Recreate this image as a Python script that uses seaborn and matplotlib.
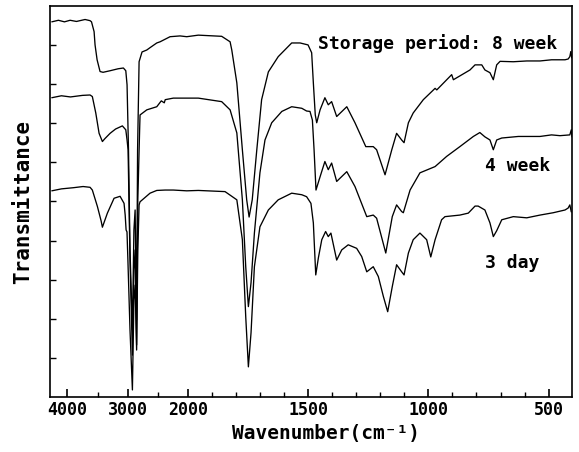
import numpy as np
import pandas as pd
import matplotlib
matplotlib.use("Agg")
import matplotlib.pyplot as plt
from matplotlib.ticker import FixedLocator, NullFormatter
import seaborn as sns

# ---- data (wavenumber cm-1, transmittance arbitrary units) ----
wn_8week = [4260, 4150, 4050, 3956, 3850, 3707, 3624, 3600, 3557, 3541, 3507, 3458, 3408, 3291, 3158,
            3070, 3030, 3009, 2985, 2960, 2920, 2895, 2875, 2850, 2834, 2809, 2760, 2681, 2627, 2515,
            2460, 2294, 2128, 2017, 1956, 1859, 1824, 1817, 1796, 1773, 1755, 1745, 1732, 1713, 1693,
            1665, 1624, 1568, 1533, 1500, 1485, 1478, 1470, 1464, 1450, 1430, 1416, 1402, 1381, 1339,
            1305, 1260, 1229, 1215, 1180, 1152, 1132, 1111, 1101, 1083, 1063, 1021, 972, 965, 903,
            896, 827, 806, 778, 765, 744, 730, 716, 702, 647, 591, 536, 488, 432, 419, 412, 408, 404]
t_8week = [95.9, 96.3, 95.9, 96.3, 96.0, 96.5, 96.2, 95.9, 93.4, 90.0, 86.2, 83.2, 83.0, 83.4, 83.9,
           84.1, 83.4, 79.8, 63.2, 37.6, 17.1, 42.7, 47.8, 19.7, 63.2, 85.7, 88.2, 88.7, 89.3, 90.5,
           90.8, 92.1, 92.3, 92.1, 92.5, 92.2, 90.8, 88.7, 80.3, 63.2, 50.4, 46.0, 50.4, 63.2, 76.0,
           83.1, 87.0, 90.5, 90.5, 90.0, 88.0, 80.3, 72.1, 70.1, 73.4, 76.5, 74.7, 75.5, 71.7, 74.2,
           70.1, 64.0, 64.0, 63.2, 56.8, 63.2, 67.4, 65.7, 65.0, 70.1, 72.6, 76.0, 78.9, 78.5, 82.4,
           81.1, 83.6, 84.9, 84.9, 83.6, 82.9, 81.1, 84.9, 85.8, 85.7, 85.9, 85.9, 86.2, 86.2, 86.4,
           87.0, 88.3, 86.7]

wn_4week = [4260, 4100, 3950, 3750, 3624, 3586, 3529, 3474, 3419, 3380, 3291, 3200, 3087, 3030, 3009,
            2992, 2960, 2920, 2895, 2875, 2850, 2830, 2800, 2793, 2681, 2515, 2440, 2390, 2375, 2240,
            2017, 1956, 1859, 1824, 1796, 1773, 1759, 1748, 1737, 1723, 1700, 1679, 1651, 1609, 1568,
            1526, 1506, 1492, 1482, 1475, 1467, 1450, 1430, 1416, 1402, 1381, 1339, 1305, 1256, 1229,
            1215, 1177, 1150, 1132, 1111, 1104, 1076, 1035, 972, 924, 869, 813, 786, 765, 744,
            730, 716, 695, 626, 536, 488, 453, 412, 406, 403]
t_4week = [76.5, 77.0, 76.7, 77.1, 77.2, 76.8, 72.6, 67.4, 65.3, 66.0, 67.4, 68.5, 69.3, 68.3, 65.7,
           63.2, 35.0, 10.7, 32.5, 37.6, 13.3, 50.4, 68.3, 72.1, 73.4, 74.2, 75.7, 75.2, 76.0, 76.4,
           76.4, 76.4, 75.5, 73.4, 67.5, 50.4, 33.3, 23.1, 29.2, 41.9, 57.3, 65.7, 70.1, 73.0, 74.2,
           73.8, 73.1, 73.0, 70.8, 63.2, 52.9, 56.3, 60.2, 58.1, 59.8, 55.1, 57.6, 53.8, 46.1, 46.5,
           45.7, 36.8, 46.1, 49.1, 47.4, 47.1, 52.9, 57.3, 58.9, 61.5, 64.0, 66.6, 67.6, 66.5, 65.7,
           63.2, 65.7, 66.2, 66.6, 66.6, 67.0, 66.8, 67.0, 68.3, 66.5]

wn_3day = [4260, 4100, 3900, 3740, 3624, 3586, 3502, 3440, 3419, 3336, 3225, 3125, 3059, 3040, 3025,
           3010, 2995, 2960, 2920, 2895, 2875, 2850, 2830, 2809, 2793, 2627, 2515, 2375, 2240, 2017,
           1956, 1845, 1796, 1773, 1759, 1748, 1737, 1723, 1700, 1665, 1624, 1568, 1526, 1506, 1488,
           1478, 1468, 1457, 1443, 1427, 1416, 1405, 1381, 1360, 1333, 1298, 1277, 1256, 1229, 1208,
           1187, 1169, 1150, 1132, 1111, 1101, 1083, 1063, 1035, 1007, 990, 972, 945, 931, 869,
           834, 806, 793, 765, 744, 730, 716, 695, 647, 591, 536, 481, 432, 419, 412, 406]
t_3day = [52.7, 53.2, 53.5, 53.8, 53.6, 52.9, 48.7, 45.0, 43.4, 47.0, 50.8, 51.3, 49.5, 46.5, 42.7,
          42.2, 35.0, 17.1, 1.8, 24.8, 28.6, 12.0, 37.6, 49.1, 49.9, 52.1, 52.8, 52.9, 52.9, 52.7,
          52.8, 52.5, 50.4, 40.2, 20.5, 7.7, 16.4, 33.3, 43.5, 47.8, 50.4, 52.1, 51.7, 51.2, 49.5,
          44.5, 31.2, 35.6, 40.2, 42.3, 41.0, 41.9, 35.0, 37.6, 38.9, 38.0, 35.9, 32.0, 33.3, 30.8,
          25.7, 21.8, 28.2, 33.8, 32.0, 31.2, 36.8, 40.2, 41.9, 40.2, 35.8, 40.2, 45.3, 46.1, 46.5,
          47.0, 48.8, 48.8, 47.8, 44.5, 41.0, 42.5, 45.3, 46.1, 45.8, 46.5, 47.1, 47.8, 48.3, 49.1,
          47.3]

series_labels = ["Storage period: 8 week", "4 week", "3 day"]
major_ticks = [4000, 3000, 2000, 1500, 1000, 500]
minor_ticks = [3500, 2500, 1900, 1800, 1700, 1600, 1400, 1300, 1200, 1100, 900, 800, 700, 600]

frames = []
for name, w, t in [("8 week", wn_8week, t_8week), ("4 week", wn_4week, t_4week), ("3 day", wn_3day, t_3day)]:
    frames.append(pd.DataFrame({"wavenumber": w, "T": t, "period": name}))
df = pd.concat(frames, ignore_index=True)

sns.set_style("ticks")
plt.rcParams["font.family"] = ["DejaVu Sans Mono", "DejaVu Sans"]
plt.rcParams["font.weight"] = "bold"
plt.rcParams["text.color"] = "black"
plt.rcParams["xtick.color"] = "black"
plt.rcParams["ytick.color"] = "black"
plt.rcParams["axes.labelcolor"] = "black"
plt.rcParams["axes.axisbelow"] = False

fig = plt.figure(figsize=(5.79, 4.522), dpi=100)
ax = fig.add_axes([50 / 579, 1 - 397 / 452, 522 / 579, 391 / 452])


def fwd(x):
    x = np.asarray(x, dtype=float)
    return np.where(x > 2000, 2000 + (x - 2000) / 4.0, x)


def inv(y):
    y = np.asarray(y, dtype=float)
    return np.where(y > 2000, 2000 + (y - 2000) * 4.0, y)


# broken wavenumber axis: 4000-2000 compressed 4x relative to 2000-400
ax.set_xscale("function", functions=(fwd, inv))

for name in ["8 week", "4 week", "3 day"]:
    sub = df[df["period"] == name]
    sns.lineplot(data=sub, x="wavenumber", y="T", ax=ax, color="black", lw=0.95,
                 sort=False, estimator=None, legend=False)

ax.set_xlim(4290, 403)
ax.set_ylim(0, 100)
ax.set_yticks(np.arange(10, 100, 10))
ax.set_yticklabels([])

for s in ax.spines.values():
    s.set_linewidth(1.2)
    s.set_color("black")

ax.set_xlabel("Wavenumber(cm\u207b\u00b9)", fontsize=14, fontweight="bold")
ax.set_ylabel("Transmittance", fontsize=15, fontweight="bold")
ax.xaxis.set_label_coords(0.529, -0.068)
ax.yaxis.set_label_coords(-0.033, 0.5)

ax.text(0.513, 0.903, series_labels[0], transform=ax.transAxes, fontsize=13,
        fontweight="bold", ha="left", va="center")
ax.text(0.833, 0.591, series_labels[1], transform=ax.transAxes, fontsize=13,
        fontweight="bold", ha="left", va="center")
ax.text(0.833, 0.343, series_labels[2], transform=ax.transAxes, fontsize=13,
        fontweight="bold", ha="left", va="center")

ax.xaxis.set_major_locator(FixedLocator(major_ticks))
ax.set_xticklabels([str(v) for v in major_ticks], fontweight="bold")
ax.xaxis.set_minor_locator(FixedLocator(minor_ticks))
ax.xaxis.set_minor_formatter(NullFormatter())
ax.xaxis.set_ticks_position("bottom")
ax.yaxis.set_ticks_position("left")
ax.tick_params(axis="x", which="major", direction="in", length=6, width=1.2, pad=3,
               labelsize=12, color="black")
ax.tick_params(axis="x", which="minor", direction="in", length=3.5, width=1.0, color="black")
ax.tick_params(axis="y", which="major", direction="in", length=4, width=1.0, color="black")
ax.xaxis.set_zorder(3)

fig.savefig("out.png", dpi=100)
